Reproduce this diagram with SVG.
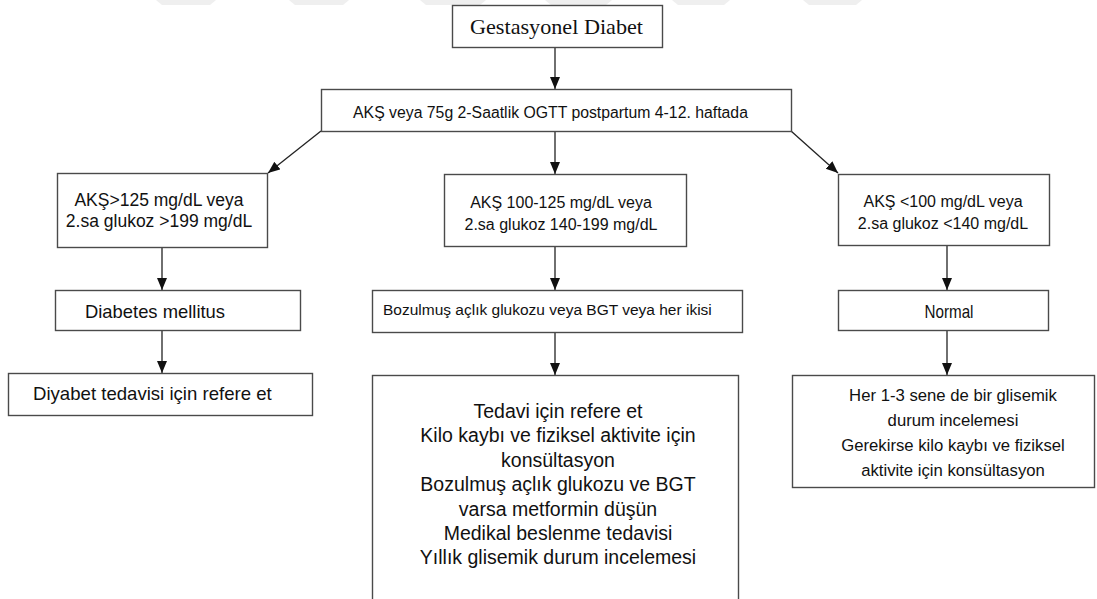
<svg xmlns="http://www.w3.org/2000/svg" width="1097" height="599" viewBox="0 0 1097 599">
<style>
.box{fill:#fff;stroke:#4a4a4a;stroke-width:1.4}
.t{font-family:"Liberation Sans",Arial,sans-serif;fill:#111}
.s{font-family:"Liberation Serif","Times New Roman",serif;fill:#111}
.c{text-anchor:middle}
.ln{stroke:#222;stroke-width:1.3;fill:none;marker-end:url(#ah)}
.wm{fill:#efefef}
</style>
<defs>
<marker id="ah" markerUnits="userSpaceOnUse" markerWidth="13" markerHeight="11" refX="12" refY="5" orient="auto">
<path d="M0,0 L12,5 L0,10 Z" fill="#111"/>
</marker>
</defs>
<rect width="1097" height="599" fill="#fff"/>
<g id="watermark">
<polygon class="wm" points="156,0 216,0 210,5 162,5"/>
<polygon class="wm" points="289,0 349,0 343,5 295,5"/>
<polygon class="wm" points="420,0 486,0 480,5 426,5"/>
<polygon class="wm" points="545,0 612,0 606,5 551,5"/>
<polygon class="wm" points="672,0 730,0 724,5 678,5"/>
<polygon class="wm" points="803,0 862,0 856,5 809,5"/>
</g>
<g id="connectors">
<line class="ln" x1="555" y1="47" x2="555" y2="89"/>
<line class="ln" x1="555" y1="131" x2="555" y2="174"/>
<line class="ln" x1="321" y1="131" x2="268" y2="173"/>
<line class="ln" x1="791" y1="131" x2="838" y2="173"/>
<line class="ln" x1="162" y1="247" x2="162" y2="290"/>
<line class="ln" x1="162" y1="330" x2="162" y2="373"/>
<line class="ln" x1="555" y1="247" x2="555" y2="290"/>
<line class="ln" x1="555" y1="332" x2="555" y2="375"/>
<line class="ln" x1="947" y1="246" x2="947" y2="290"/>
<line class="ln" x1="947" y1="330" x2="947" y2="375"/>
</g>
<g id="n-gestasyonel">
<rect class="box" x="452.5" y="5.5" width="210" height="42"/>
<text class="s c" x="556.5" y="34" font-size="21.5" textLength="173" lengthAdjust="spacingAndGlyphs">Gestasyonel Diabet</text>
</g>
<g id="n-test">
<rect class="box" x="321.5" y="89.5" width="470" height="42"/>
<text class="t c" x="550.5" y="118" font-size="15.8">AKŞ veya 75g 2-Saatlik OGTT postpartum 4-12. haftada</text>
</g>
<g id="n-cond-left">
<rect class="box" x="57.5" y="173.5" width="210" height="74"/>
<text class="t c" x="159" y="206" font-size="17.5">AKŞ&gt;125 mg/dL veya</text>
<text class="t c" x="159" y="227" font-size="17.5">2.sa glukoz &gt;199 mg/dL</text>
</g>
<g id="n-cond-mid">
<rect class="box" x="444.5" y="174.5" width="242" height="72"/>
<text class="t c" x="561" y="208" font-size="16">AKŞ 100-125 mg/dL veya</text>
<text class="t c" x="561" y="230" font-size="16">2.sa glukoz 140-199 mg/dL</text>
</g>
<g id="n-cond-right">
<rect class="box" x="838.5" y="174.5" width="211" height="71"/>
<text class="t c" x="943" y="207" font-size="16">AKŞ &lt;100 mg/dL veya</text>
<text class="t c" x="943" y="229" font-size="16">2.sa glukoz &lt;140 mg/dL</text>
</g>
<g id="n-dm">
<rect class="box" x="55.5" y="290.5" width="245" height="40"/>
<text class="t c" x="155" y="318" font-size="18.4">Diabetes mellitus</text>
</g>
<g id="n-bozulmus">
<rect class="box" x="372.5" y="290.5" width="370" height="42"/>
<text class="t" x="383" y="315" font-size="15.5">Bozulmuş açlık glukozu veya BGT veya her ikisi</text>
</g>
<g id="n-normal">
<rect class="box" x="838.5" y="290.5" width="210" height="40"/>
<text class="t c" x="949" y="318" font-size="19" textLength="49" lengthAdjust="spacingAndGlyphs">Normal</text>
</g>
<g id="n-diyabet-tedavi">
<rect class="box" x="8.5" y="373.5" width="304" height="42"/>
<text class="t" x="33" y="400" font-size="18.6">Diyabet tedavisi için refere et</text>
</g>
<g id="n-mid-actions">
<rect class="box" x="372.5" y="375.5" width="366" height="240"/>
<text class="t c" x="558" y="418" font-size="19.5">Tedavi için refere et</text>
<text class="t c" x="558" y="442.4" font-size="19.5">Kilo kaybı ve fiziksel aktivite için</text>
<text class="t c" x="558" y="466.8" font-size="19.5">konsültasyon</text>
<text class="t c" x="558" y="491.2" font-size="19.5">Bozulmuş açlık glukozu ve BGT</text>
<text class="t c" x="558" y="515.6" font-size="19.5">varsa metformin düşün</text>
<text class="t c" x="558" y="540" font-size="19.5">Medikal beslenme tedavisi</text>
<text class="t c" x="558" y="564.4" font-size="19.5">Yıllık glisemik durum incelemesi</text>
</g>
<g id="n-right-actions">
<rect class="box" x="792.5" y="375.5" width="302" height="112"/>
<text class="t c" x="953" y="401" font-size="16.7">Her 1-3 sene de bir glisemik</text>
<text class="t c" x="953" y="426" font-size="16.7">durum incelemesi</text>
<text class="t c" x="953" y="451" font-size="16.7">Gerekirse kilo kaybı ve fiziksel</text>
<text class="t c" x="953" y="476" font-size="16.7">aktivite için konsültasyon</text>
</g>
</svg>
